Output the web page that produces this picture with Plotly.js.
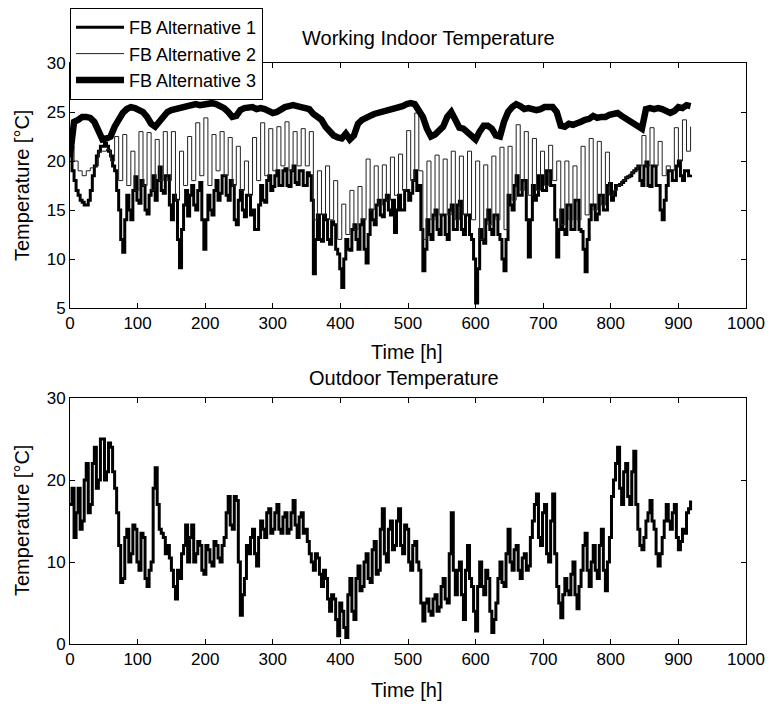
<!DOCTYPE html>
<html><head><meta charset="utf-8">
<script src="https://cdn.plot.ly/plotly-3.0.1.min.js"></script>
<style>html,body{margin:0;padding:0;background:#fff}#chart{width:771px;height:706px}</style>
</head><body><div id="chart"></div>
<script>
// sampling intervals (hours)
const STEP_FINE = 3;   // alt1, outdoor
const STEP_COARSE = 6; // alt2, alt3

// FB Alternative 1 (indoor, °C), every 3 h
const alt1 = [
 20.5,19,18,17,16.5,16,15.8,15.5,15.5,16,17,18.5,19.5,20.5,21,21.5,21.5,21.8,21.5,21,
 20.5,19.5,19,17,15,12,10.7,14,16.5,15,14,17,18.4,16,15.7,18,17.5,15,14.6,16.5,
 17,18.5,16,18,19.4,17,16.7,18.5,18.5,15.5,14,16.5,16,12,9.1,13,15.5,17,14.4,16.5,
 17.5,15.5,15,17,17.8,14,11,14,16.5,15,14.5,17,18,16,16.7,18.5,18.5,16.5,16,18,
 17.5,14,13.5,16,17,15,14.3,16.5,16.5,14.5,15,13,13,15.5,17.5,16,15.8,18,18.5,17,
 17.4,18.5,19,17.5,17.5,19,19.2,17.5,17.4,19,19.5,17.8,17.6,19,19,17.5,17.5,18.8,18.5,16,
 8.5,12,14.5,12,11.8,14.5,14,12,11.5,13.8,13.5,11,10.5,9,7.1,10,12,11,10.9,13,
 13.5,12,11,13.5,14,11,9.6,12.5,15,14,13.5,15.5,16,14.5,14.3,16,16.5,15,14.5,16,
 12.7,15,16.5,15,15,17,17,16,16.7,18,19,17,17.5,13,8.8,11,14,12.5,12,14.5,
 15,13,12.5,14.5,14.5,12.5,12,15,15.5,13,13,15.5,15.9,13,12.5,14.5,14.5,12.5,12,10,
 5.5,9,13,12,11.6,14,15,13,12.5,14.5,14.5,12.5,12,10,8.8,12,16.5,15.5,15,17.5,
 18.5,16.5,16.5,18,18,14,10.2,14,17.5,16,16.5,18.5,18.5,17,17,19,19,17.5,17.5,14,
 10.2,13,15,13,12.5,15.5,15.5,13,13,16,16,13,12.8,11,8.7,12,14,15.5,15.5,14,
 14.6,16.5,16.5,15,15,17.5,17.7,16,16.5,17.5,17.5,17.6,17.8,18,18.3,18.4,18.5,18.8,19,19.2,
 19.5,18,17.5,19.5,19.9,17.5,17.4,19.5,19.5,17.5,17.5,15,14,16,17.5,19,19,18,18,19.5,
 20,18.5,18,19,19,18.5,18.6
];

// FB Alternative 2 (indoor, °C), every 6 h
const alt2 = [
 21.5, 20, 19, 18.5, 19, 19.3, 19.5, 21, 21, 21.2,
 20, 22.5, 18, 22.7, 17.5, 21, 17, 23, 17.5, 22.9,
 17, 22.2, 18, 23, 18, 23, 16, 21, 17.5, 22.5,
 18, 23.9, 18.5, 24.4, 17.5, 22.7, 19, 23, 18.5, 22.4,
 17.5, 21.5, 17, 20, 16.5, 22.4, 18, 23.9, 18.5, 23.3,
 19, 23.5, 19.5, 24, 19, 23, 19.5, 23.3, 19.5, 23,
 14, 19, 14.5, 19.5, 14, 18, 12, 15.6, 12.5, 17,
 13, 17.4, 14, 20.2, 15, 19.5, 15.5, 19.6, 16, 20.4,
 16.5, 20.7, 17, 23.1, 18, 24.9, 19, 12, 20, 14,
 20.6, 14.5, 20.2, 14.5, 21, 14, 20.5, 14.5, 21, 14,
 20, 12, 19.6, 13.5, 20.5, 14, 21.4, 13, 21.5, 16,
 23.7, 17, 23, 16.5, 22.3, 17, 21, 17.5, 21.6, 18,
 20, 13.5, 20, 14, 19.5, 14, 21.5, 14.5, 22.3, 15,
 22, 15.5, 20.9, 16.5, 17, 17.5, 18, 18.3, 18.7, 19,
 19.5, 22.6, 19.5, 23.4, 19.5, 22, 18.5, 19.5, 19, 23.4,
 20, 24.2, 21, 23.5
];

// FB Alternative 3 (indoor, °C), every 6 h
const alt3 = [
 20.5, 24, 24.2, 24.5, 24.5, 24.4, 24, 23, 22.2, 22.3,
 22.5, 23.5, 24.3, 24.9, 25.3, 25.5, 25.4, 25.2, 25, 24.5,
 23.8, 23.5, 24, 24.5, 25, 25.2, 25.3, 25.5, 25.6, 25.7,
 25.7, 25.8, 25.7, 25.8, 25.9, 25.9, 25.8, 25.6, 25.4, 25,
 24.5, 24.6, 25.2, 25.4, 25.5, 25.5, 25.3, 25.4, 25.3, 25,
 24.9, 25, 25.3, 25.5, 25.6, 25.7, 25.6, 25.5, 25.4, 25.3,
 24.8, 24.5, 24.2, 23.5, 23, 22.6, 22.4, 22.3, 22.8, 22.2,
 22.6, 23.8, 24.2, 24.5, 24.6, 24.8, 24.9, 25, 25.2, 25.3,
 25.4, 25.5, 25.6, 25.8, 25.9, 25.8, 25.2, 24.5, 23.3, 22.5,
 22.7, 23.2, 23.5, 24.5, 25, 24.2, 23.4, 23.3, 23, 22.5,
 22.2, 23, 23.6, 23.6, 23.3, 22.6, 22.5, 24, 25, 25.5,
 25.8, 25.6, 25.3, 25.4, 25.3, 25.2, 25.3, 25.5, 25.5, 25.5,
 25, 23.6, 23.5, 23.8, 23.7, 23.8, 24, 24.2, 24.3, 24.6,
 24.4, 24.5, 24.5, 24.7, 24.8, 24.9, 24.6, 24.3, 24.1, 23.9,
 23.5, 23.3, 25.3, 25.4, 25.3, 25.4, 25.3, 25, 24.9, 25.1,
 25.5, 25.4, 25.7, 25.6
];

// Outdoor temperature (°C), every 3 h
const outdoor = [
 17,19,13,16,19,14,15,20,22,16,17,22,24,19,20,25,25,20,21,24.5,
 24,21,19,16,12,7.5,8,13,14,10,11,14.5,14,10,9,13.5,13,8,7,9,
 10,19,21.5,17,14,13.5,13,11,12,10.5,9,7,5.5,9,8,11,12,14.5,10,13,
 14.5,10,11,12.5,12,9,8.5,12,11.5,10,9.5,12.5,12,10.5,10,12,13,16,18,14.5,
 14,18,17.5,10,3.5,6,8,12,11,13,14,11,9.5,13,15,14,13,16,16.5,13.5,
 14,16,17,14,13.5,15.5,16,13.5,14,16,17.5,14.5,13,15.5,16,13.5,14,12.5,11,10,
 9,11,10.5,8.5,7,9,8,5.5,4,6,5.5,3,1,5,4,2,0.8,6,8,4,
 3,8,9.5,6.5,7,10,11,8,7.5,11.5,12.5,8.5,9,14,16.5,11,10,14,15,11.5,
 12,15,16.5,12,11,14.5,14,10,9,12,12.5,10,9,5,2.8,5,5.5,4,3.5,5.5,
 6,4,4.5,7,8,5.5,5,11,16,9,6,9,10,6,3,9,12,8,7,4,
 1.6,7,10,7,6,9,8,4,1.4,3,5,8,10,7.5,7,11,14,10,9,11.5,
 12,9,8,10.5,11,9,9.5,13,15,17,18.3,13,12,16,17,11,10,15,18.3,11,
 7,5,3.2,6,8,6.5,6,8.5,10,6,4.3,7,9,12,13.5,9,7,10,12,9,
 8,12,14,9,6.5,10,13,18,20,22,24,19,17,21,22,18,17,21,23.5,17,
 14,12,11.5,13,15,16,17.5,15,14,11,9.5,11,13,15,17,15,14,16,17,13,
 11.5,12.5,14,13.5,16,16.5,17.5
];

const seriesNames = ['FB Alternative 1', 'FB Alternative 2', 'FB Alternative 3'];
const topTitle = 'Working Indoor Temperature';
const bottomTitle = 'Outdoor Temperature';
const xLabel = 'Time [h]';
const yLabel = 'Temperature [°C]';

const hours = (arr, step) => arr.map((_, i) => i * step);

const W = 771, H = 706;
const px = x => x / W;
const py = y => 1 - y / H;
const FONT = '"Liberation Sans", Arial, Helvetica, sans-serif';

const traces = [
  {x: hours(alt1, STEP_FINE), y: alt1, name: seriesNames[0], type: 'scatter', mode: 'lines',
   line: {color: '#000', width: 3, shape: 'hv'}, xaxis: 'x', yaxis: 'y'},
  {x: hours(alt2, STEP_COARSE), y: alt2, name: seriesNames[1], type: 'scatter', mode: 'lines',
   line: {color: '#222', width: 1, shape: 'hv'}, xaxis: 'x', yaxis: 'y'},
  {x: hours(alt3, STEP_COARSE), y: alt3, name: seriesNames[2], type: 'scatter', mode: 'lines',
   line: {color: '#000', width: 6.5}, xaxis: 'x', yaxis: 'y'},
  {x: hours(outdoor, STEP_FINE), y: outdoor, name: bottomTitle, type: 'scatter', mode: 'lines',
   line: {color: '#000', width: 3, shape: 'hv'}, xaxis: 'x2', yaxis: 'y2', showlegend: false}
];

const axBase = {
  showline: true, linecolor: '#000', linewidth: 1, mirror: 'ticks',
  ticks: 'inside', ticklen: 5, tickcolor: '#000', tickwidth: 1,
  showgrid: false, zeroline: false, fixedrange: true,
  tickfont: {family: FONT, size: 17, color: '#000'}
};

const ann = (text, x, y, size, angle) => ({
  text, x: px(x), y: py(y), xref: 'paper', yref: 'paper',
  xanchor: 'center', yanchor: 'middle', showarrow: false,
  textangle: angle || 0, font: {family: FONT, size, color: '#000'}
});

const layout = {
  width: W, height: H,
  margin: {l: 0, r: 0, t: 0, b: 0},
  paper_bgcolor: '#fff', plot_bgcolor: '#fff',
  showlegend: true,
  xaxis: Object.assign({}, axBase, {domain: [px(70), px(746)], range: [0, 1000], dtick: 100, tick0: 0, anchor: 'y'}),
  yaxis: Object.assign({}, axBase, {domain: [py(308), py(63)], range: [5, 30], dtick: 5, tick0: 0, anchor: 'x'}),
  xaxis2: Object.assign({}, axBase, {domain: [px(70), px(746)], range: [0, 1000], dtick: 100, tick0: 0, anchor: 'y2'}),
  yaxis2: Object.assign({}, axBase, {domain: [py(644), py(398)], range: [0, 30], dtick: 10, tick0: 0, anchor: 'x2'}),
  legend: {
    x: px(70), y: py(8), xanchor: 'left', yanchor: 'top',
    bgcolor: '#fff', bordercolor: '#000', borderwidth: 1,
    font: {family: FONT, size: 18, color: '#000'}, tracegroupgap: 0,
    itemwidth: 48
  },
  annotations: [
    ann(topTitle, 428, 38, 20),
    ann(bottomTitle, 404, 378, 20),
    ann(xLabel, 407, 352, 20),
    ann(xLabel, 407, 690, 20),
    ann(yLabel, 22, 186, 20, -90),
    ann(yLabel, 22, 521, 20, -90)
  ]
};

Plotly.newPlot('chart', traces, layout, {displayModeBar: false, staticPlot: true});
</script>
</body></html>
